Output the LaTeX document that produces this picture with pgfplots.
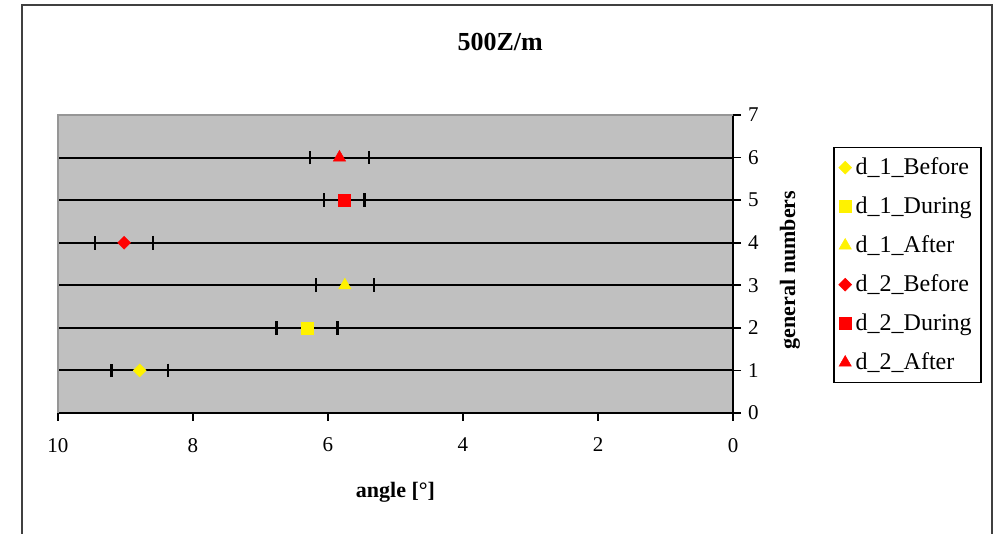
\documentclass[border=0pt]{standalone}
\usepackage{fontspec}
\setmainfont{Liberation Serif}
\usepackage{pgfplots}
\pgfplotsset{compat=1.18}

\definecolor{plotbg}{RGB}{192,192,192}
\definecolor{frameg}{RGB}{150,150,150}

\begin{document}
\begin{tikzpicture}
\path[use as bounding box] (-29pt,-60.5pt) rectangle (473.5pt,206.5pt);
\draw[line width=1.2pt, black!75] (-18pt,-61pt) -- (-18pt,204pt) -- (467pt,204pt) -- (467pt,-61pt);
\begin{axis}[
    at={(0,0)}, anchor=south west,
    scale only axis,
    width=337.5pt, height=149pt,
    xmin=0, xmax=10, x dir=reverse,
    ymin=0, ymax=7,
    xtick={0,2,...,10}, ytick={0,1,...,7},
    axis x line*=bottom, axis y line*=right,
    axis line style={-, black, line width=0.8pt},
    tick align=outside,
    major tick length=4pt,
    tick style={black, line width=0.8pt},
    axis background/.style={fill=plotbg},
    ymajorgrids, grid style={black, line width=1pt},
    tick label style={font=\fontsize{10.5}{12}\selectfont},
    x tick label style={yshift=-5pt},
    /pgf/number format/assume math mode=true,
    every axis x label/.style={at={(axis description cs:0.5,-0.265)}, anchor=center},
    every axis y label/.style={at={(axis description cs:1.0844,0.48)}, rotate=90, anchor=center},
    xlabel={\bfseries\fontsize{11}{13}\selectfont angle [°]},
    ylabel={\bfseries\fontsize{11}{13}\selectfont general numbers},
    title={\bfseries\fontsize{13}{15}\selectfont 500Z/m},
    title style={at={(axis description cs:0.655,1.205)}, anchor=center},
    legend style={at={(rel axis cs:1.148,0.893)}, anchor=north west,
        draw=black, line width=0.8pt, fill=white,
        font=\fontsize{12}{13}\selectfont, row sep=5.6pt,
        inner xsep=2.5pt, inner ysep=3pt},
    legend cell align=left,
    error bars/error bar style={black, line width=0.8pt},
    error bars/error mark options={black, line width=1.2pt, mark size=3.4pt, rotate=90},
    clip=false,
]
\addplot[only marks, mark=square*, mark size=2.3pt, mark options={rotate=45, fill=yellow, draw=yellow, line width=0.2pt},
    error bars/.cd, x dir=both, x explicit]
    coordinates {(8.79,1) +- (0.42,0)};
\addlegendentry{d\_1\_Before}
\addplot[only marks, mark=square*, mark size=3pt, mark options={fill=yellow, draw=yellow, line width=0.2pt},
    error bars/.cd, x dir=both, x explicit]
    coordinates {(6.31,2) +- (0.45,0)};
\addlegendentry{d\_1\_During}
\addplot[only marks, mark=triangle*, mark size=3.6pt, mark options={fill=yellow, draw=yellow, line width=0.2pt},
    error bars/.cd, x dir=both, x explicit]
    coordinates {(5.75,3) +- (0.43,0)};
\addlegendentry{d\_1\_After}
\addplot[only marks, mark=square*, mark size=2.3pt, mark options={rotate=45, fill=red, draw=red, line width=0.2pt},
    error bars/.cd, x dir=both, x explicit]
    coordinates {(9.02,4) +- (0.43,0)};
\addlegendentry{d\_2\_Before}
\addplot[only marks, mark=square*, mark size=3pt, mark options={fill=red, draw=red, line width=0.2pt},
    error bars/.cd, x dir=both, x explicit]
    coordinates {(5.76,5) +- (0.30,0)};
\addlegendentry{d\_2\_During}
\addplot[only marks, mark=triangle*, mark size=3.6pt, mark options={fill=red, draw=red, line width=0.2pt},
    error bars/.cd, x dir=both, x explicit]
    coordinates {(5.83,6) +- (0.44,0)};
\addlegendentry{d\_2\_After}
\draw[frameg, line width=0.8pt] (rel axis cs:0,0) -- (rel axis cs:0,1) -- (rel axis cs:1,1);
\end{axis}
\end{tikzpicture}
\end{document}
